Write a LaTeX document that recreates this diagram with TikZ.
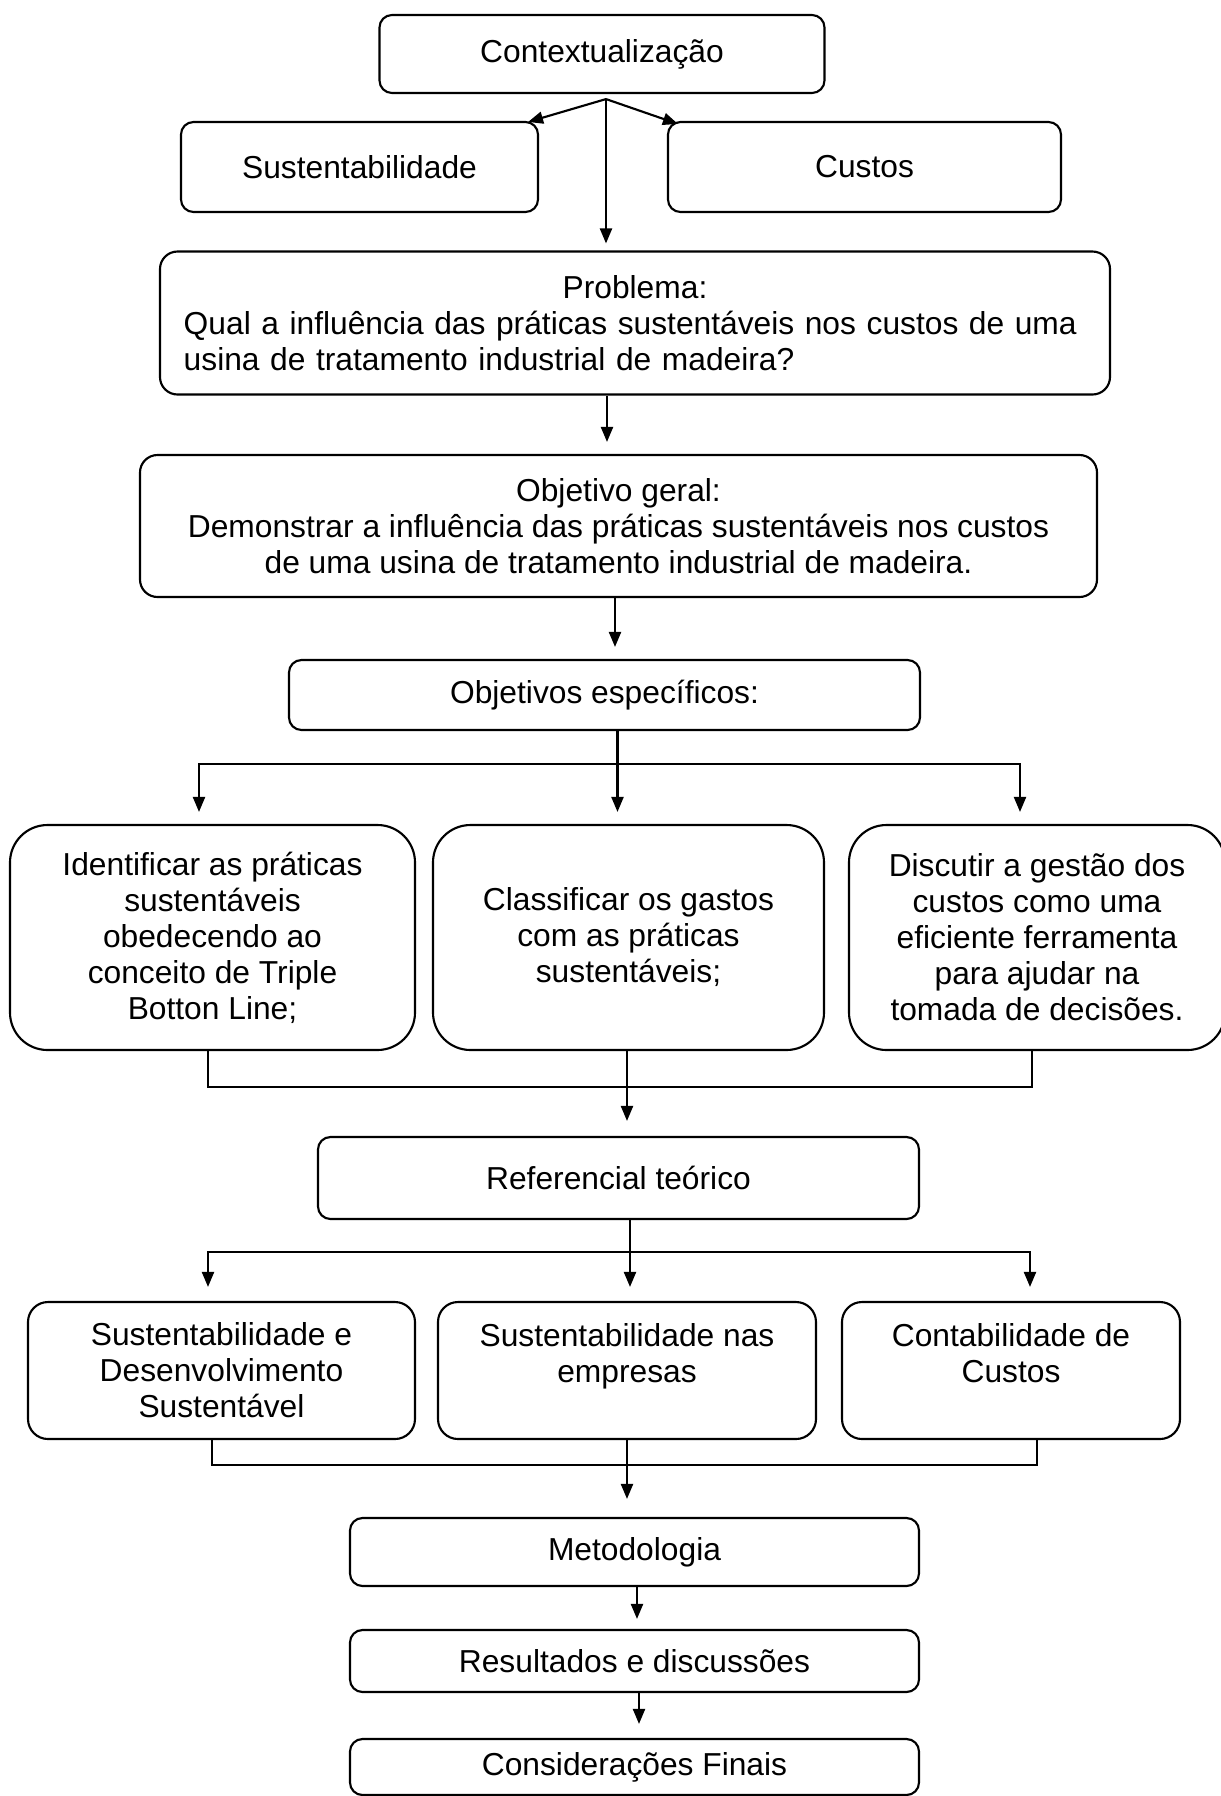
\documentclass[tikz,border=0pt]{standalone}
\usepackage{fontspec}
\setmainfont{Liberation Sans}
\usetikzlibrary{arrows.meta,calc}
\begin{document}
\begin{tikzpicture}[x=0.4pt,y=-0.4pt,
  every node/.style={font=\fontsize{12.7}{14.4}\selectfont},
  box/.style={draw, line width=0.85pt, rounded corners=5pt, align=center, inner sep=0pt},
  lin/.style={line width=0.85pt},
  arr/.style={line width=0.85pt, -{Triangle[length=6pt,width=4.8pt]}}]
\useasboundingbox (0,0) rectangle (1221,1796);
\node[box, minimum width=178pt, minimum height=31.2pt] (ctx) at (602,54){Contextualização};
\node[box, minimum width=142.8pt, minimum height=36pt] (sust) at (359.5,167){Sustentabilidade};
\node[box, minimum width=157.2pt, minimum height=36pt] (cust) at (864.5,167){Custos};
\node[box, rounded corners=7pt, minimum width=380pt, minimum height=57.2pt, text width=361pt, align=left] (prob) at (635,323){{\centering Problema:\par}Qual a influência das práticas sustentáveis nos custos de uma\\usina de tratamento industrial de madeira?};
\node[box, rounded corners=7pt, minimum width=382.8pt, minimum height=56.8pt] (obj) at (618.5,526){Objetivo geral:\\Demonstrar a influência das práticas sustentáveis nos custos\\de uma usina de tratamento industrial de madeira.};
\node[box, minimum width=252.4pt, minimum height=28pt] (esp) at (604.5,695){Objetivos específicos:};
\node[box, rounded corners=15pt, minimum width=162pt, minimum height=90pt] (ob1) at (212.5,937.5){Identificar as práticas\\sustentáveis\\obedecendo ao\\conceito de Triple\\Botton Line;};
\node[box, rounded corners=15pt, minimum width=156.4pt, minimum height=90pt] (ob2) at (628.5,937.5){Classificar os gastos\\com as práticas\\sustentáveis;};
\node[box, rounded corners=15pt, minimum width=150.4pt, minimum height=90pt] (ob3) at (1037,937.5){Discutir a gestão dos\\custos como uma\\eficiente ferramenta\\para ajudar na\\tomada de decisões.};
\node[box, minimum width=240.4pt, minimum height=32.8pt] (ref) at (618.5,1178){Referencial teórico};
\node[box, rounded corners=8pt, minimum width=154.8pt, minimum height=54.8pt] (rb1) at (221.5,1370.5){Sustentabilidade e\\Desenvolvimento\\Sustentável};
\node[box, rounded corners=8pt, minimum width=151.2pt, minimum height=54.8pt] (rb2) at (627,1370.5){Sustentabilidade nas\\empresas\\~};
\node[box, rounded corners=8pt, minimum width=135.2pt, minimum height=54.8pt] (rb3) at (1011,1370.5){Contabilidade de\\Custos\\~};
\node[box, minimum width=227.6pt, minimum height=27.2pt] (met) at (634.5,1552){Metodologia};
\node[box, minimum width=227.6pt, minimum height=24.8pt] (res) at (634.5,1661){Resultados e discussões};
\node[box, minimum width=227.6pt, minimum height=22.4pt] (con) at (634.5,1767){Considerações Finais};
\coordinate (ctxsplit) at ($(ctx.south)+(4,5)$);
\draw[arr] (ctxsplit) -- ($(sust.north east)+(-11,1)$);
\draw[arr] (ctxsplit) -- ($(cust.north west)+(11,3)$);
\draw[arr, shorten >=2.8pt] (ctxsplit) -- (ctxsplit |- prob.north);
\draw[arr, shorten >=4.8pt] ($(prob.south)+(-28,0)$) coordinate (pa) -- (pa |- obj.north);
\draw[arr, shorten >=4.8pt] ($(obj.south)+(-3.5,0)$) coordinate (oa) -- (oa |- esp.north);
\coordinate (espbar) at ($(esp.south)+(13,33)$);
\draw[arr, shorten >=4.8pt] ($(esp.south)+(13,0)$) -- (espbar |- ob2.north);
\draw[arr, shorten >=4.8pt] (espbar) -| ($(ob1.north)+(-13.5,0)$);
\draw[arr, shorten >=4.8pt] (espbar) -| ($(ob3.north)+(-17,0)$);
\coordinate (obbar) at ($(ob2.south)+(-1.5,36)$);
\draw[lin] ($(ob1.south)+(-4.5,0)$) |- (obbar) -| ($(ob3.south)+(-5,0)$);
\draw[arr, shorten >=6pt] ($(ob2.south)+(-1.5,0)$) -- (obbar |- ref.north);
\coordinate (refbar) at ($(ref.south)+(11.5,32)$);
\draw[arr, shorten >=5.6pt] ($(ref.south)+(11.5,0)$) -- (refbar |- rb2.north);
\draw[arr, shorten >=5.6pt] (refbar) -| ($(rb1.north)+(-13.5,0)$);
\draw[arr, shorten >=5.6pt] (refbar) -| ($(rb3.north)+(19,0)$);
\coordinate (rbbar) at ($(rb2.south)+(0,25)$);
\draw[lin] ($(rb1.south)+(-9.5,0)$) |- (rbbar) -| ($(rb3.south)+(26,0)$);
\draw[arr, shorten >=7.2pt] (rb2.south) -- (rbbar |- met.north);
\draw[arr, shorten >=4pt] ($(met.south)+(2.5,0)$) coordinate (ma) -- (ma |- res.north);
\draw[arr, shorten >=5.6pt] ($(res.south)+(4.5,0)$) coordinate (ra) -- (ra |- con.north);
\end{tikzpicture}
\end{document}
